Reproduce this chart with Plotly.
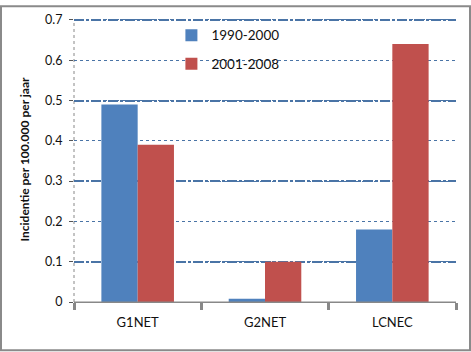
import plotly.graph_objects as go

categories = ["G1NET", "G2NET", "LCNEC"]
series_names = ["1990-2000", "2001-2008"]
values_1990_2000 = [0.49, 0.008, 0.18]
values_2001_2008 = [0.39, 0.10, 0.64]
colors = ["#4F81BD", "#C0504D"]
y_title = "Incidentie per 100.000 per jaar"

W, H = 471, 352
L, R, T, B = 74, 15, 12, 50
pw, ph = W - L - R, H - T - B
FONT = "Lato, Carlito, Calibri, sans-serif"
YMAX = 0.7 * ph / (ph - 3)   # leave 3px above the 0.7 line so its grid line is drawn

fig = go.Figure()
for name, vals, col, grp in zip(series_names, [values_1990_2000, values_2001_2008], colors, ["a", "b"]):
    fig.add_trace(go.Bar(x=categories, y=vals, name=name, marker_color=col,
                         marker_line_width=0, legendgroup=grp))

# invisible trace to host thicker grid lines on an overlay axis
fig.add_trace(go.Scatter(x=categories, y=[None]*3, yaxis="y2", showlegend=False, hoverinfo="skip"))

fig.update_layout(
    width=W, height=H,
    margin=dict(l=L, r=R, t=T, b=B),
    paper_bgcolor="white", plot_bgcolor="white",
    font=dict(family=FONT, size=12, color="#111111"),
    barmode="group", bargap=0.43, bargroupgap=0,
    showlegend=True,
    legend=dict(x=0.255, y=0.99, xanchor="left", yanchor="top",
                bgcolor="rgba(0,0,0,0)", font=dict(size=13.5, family=FONT),
                tracegroupgap=8, itemwidth=30),
    xaxis=dict(showline=True, linecolor="#888888", linewidth=1,
               ticks="outside", tickson="boundaries", ticklen=7, tickcolor="#888888", tickwidth=3,
               tickfont=dict(size=13, family=FONT), ticklabelstandoff=8, showgrid=False),
    yaxis=dict(range=[0, YMAX], tickvals=[0, 0.1, 0.2, 0.3, 0.4, 0.5, 0.6, 0.7],
               ticktext=["0", "0.1", "0.2", "0.3", "0.4", "0.5", "0.6", "0.7"],
               showgrid=True, gridcolor="#4a74a6", gridwidth=1, griddash="dot",
               ticks="outside", ticklen=4, tickcolor="#555555",
               showline=False, zeroline=False, ticklabelstandoff=4,
               tickfont=dict(size=12.5, family=FONT),
               title=dict(text="<b>" + y_title + "</b>", font=dict(size=12, family=FONT), standoff=12)),
    yaxis2=dict(range=[0, YMAX], overlaying="y", tickvals=[0.1, 0.3, 0.5, 0.7],
                showgrid=True, gridcolor="#4a74a6", gridwidth=2, griddash="10px,2px,3px,2px",
                showticklabels=False, ticks="", zeroline=False, showline=False),
)

# left axis as dotted gray line (from 0 up to the 0.7 line)
fig.add_shape(type="line", xref="paper", yref="y", x0=0, x1=0, y0=0, y1=0.7,
              line=dict(color="#888888", width=1, dash="dot"), layer="below")
# bottom axis redraw (solid gray)
fig.add_shape(type="line", xref="paper", yref="paper", x0=0, x1=1, y0=0, y1=0,
              line=dict(color="#888888", width=1))
# outer frame
fig.add_shape(type="rect", xref="paper", yref="paper",
              x0=(-L + 1) / pw, x1=(pw + R - 1) / pw,
              y0=(-B + 1) / ph, y1=(ph + T - 1) / ph,
              line=dict(color="#8a8a8a", width=2))

fig.write_html("out.html")
